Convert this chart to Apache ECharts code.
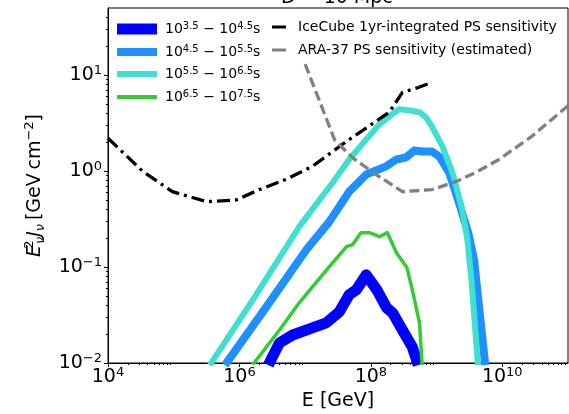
<!DOCTYPE html>
<html><head><meta charset="utf-8">
<script src="https://cdn.jsdelivr.net/npm/echarts@6/dist/echarts.min.js"></script>
<style>html,body{margin:0;padding:0;background:#fff}#c{width:569px;height:414px}</style>
</head><body><div id="c"></div>
<script>
// ---- tick values ----
const xTicks = [1e4, 1e6, 1e8, 1e10];
const xMinorTicks = [2e4,3e4,4e4,5e4,6e4,7e4,8e4,9e4, 2e6,3e6,4e6,5e6,6e6,7e6,8e6,9e6,
                     2e8,3e8,4e8,5e8,6e8,7e8,8e8,9e8, 2e10,3e10,4e10,5e10,6e10,7e10,8e10,9e10];
const yTicks = [0.01, 0.1, 1, 10];
const yMinorTicks = [0.02,0.03,0.04,0.05,0.06,0.07,0.08,0.09, 0.2,0.3,0.4,0.5,0.6,0.7,0.8,0.9,
                     2,3,4,5,6,7,8,9, 20,30,40];

// ---- series data (E [GeV], E^2 J [GeV cm^-2]) ----
const blueE = [2.75e6, 4.07e6, 6.46e6, 1.29e7, 2.09e7, 3.31e7, 4.68e7, 6.03e7, 8.51e7, 1.23e8, 1.74e8, 2.14e8, 3.02e8, 4.27e8, 5.25e8];
const blueF = [0.0095, 0.0162, 0.0196, 0.0232, 0.0262, 0.0341, 0.0514, 0.058, 0.083, 0.058, 0.0376, 0.0333, 0.0221, 0.0147, 0.0095];

const dodgerE = [6.03e5, 2.40e6, 1.05e7, 2.34e7, 4.68e7, 8.51e7, 1.70e8, 2.45e8, 3.47e8, 4.57e8, 6.03e8, 8.51e8, 1.10e9, 1.55e9, 2.19e9, 3.02e9, 3.72e9, 5.50e9];
const dodgerF = [0.0095, 0.036, 0.152, 0.297, 0.61, 0.92, 1.12, 1.32, 1.39, 1.64, 1.60, 1.60, 1.42, 0.97, 0.47, 0.23, 0.119, 0.0095];

const turqE = [3.55e5, 1.78e6, 8.13e6, 2.63e7, 4.68e7, 8.51e7, 1.35e8, 1.91e8, 2.69e8, 3.80e8, 5.50e8, 6.92e8, 8.51e8, 1.23e9, 1.74e9, 2.45e9, 2.95e9, 3.39e9, 4.27e9];
const turqF = [0.0095, 0.051, 0.264, 0.76, 1.32, 2.14, 3.07, 3.72, 4.4, 4.3, 4.1, 3.63, 2.9, 1.81, 0.97, 0.40, 0.19, 0.074, 0.0095];

const greenE = [1.58e6, 4.07e6, 8.13e6, 1.29e7, 2.34e7, 4.27e7, 5.25e7, 7.08e7, 9.55e7, 1.35e8, 1.78e8, 2.45e8, 3.55e8, 4.27e8, 5.50e8, 6.03e8];
const greenF = [0.0095, 0.0221, 0.0424, 0.0622, 0.101, 0.163, 0.171, 0.228, 0.228, 0.207, 0.228, 0.141, 0.098, 0.058, 0.0262, 0.0095];

const iceE = [1e4, 3.39e4, 9.55e4, 3.16e5, 8.91e5, 2.0e6, 5.13e6, 1.29e7, 4.27e7, 1.91e8, 3.02e8, 4.9e8, 8.51e8];
const iceF = [2.2, 0.99, 0.61, 0.48, 0.50, 0.64, 0.82, 1.12, 2.04, 4.1, 6.6, 7.3, 8.4];

const araE = [1e7, 2.82e7, 5.25e7, 1.2e8, 3.02e8, 8.51e8, 2.0e9, 3.98e9, 8.91e9, 2.82e10, 1e11];
const araF = [13, 2.1, 1.38, 0.92, 0.61, 0.64, 0.78, 0.97, 1.32, 2.3, 4.8];

const seriesNames = ['r1', 'r2', 'r3', 'r4', 'IceCube 1yr-integrated PS sensitivity', 'ARA-37 PS sensitivity (estimated)'];
const rangeLabels = [['3.5', '4.5'], ['4.5', '5.5'], ['5.5', '6.5'], ['6.5', '7.5']];

const zip = (a, b) => a.map((v, i) => [v, b[i]]);
const FONT = 'DejaVu Sans';

function expOf(v) { return Math.round(Math.log10(v)); }
function powLabel(v) {
  const e = expOf(v);
  return '{b|10}{s|' + String(e).replace('-', '\u2212') + '}';
}
const tickRich = {
  b: { fontSize: 19, fontFamily: FONT, color: '#000', lineHeight: 22, verticalAlign: 'middle' },
  s: { fontSize: 13, fontFamily: FONT, color: '#000', lineHeight: 13, verticalAlign: 'top' }
};
const legRich = {
  n: { fontSize: 14, fontFamily: FONT, color: '#000', lineHeight: 16, verticalAlign: 'middle' },
  s: { fontSize: 10, fontFamily: FONT, color: '#000', lineHeight: 10, verticalAlign: 'top' }
};
function legFormatter(name) {
  const i = seriesNames.indexOf(name);
  if (i >= 0 && i < 4) {
    const r = rangeLabels[i];
    return '{n|10}{s|' + r[0] + '}{n| \u2212 10}{s|' + r[1] + '}{n|s}';
  }
  return '{n|' + name + '}';
}

function legendRow(name, left, centerY, w, h, pad) {
  return {
    data: [{ name: name, icon: 'rect' }],
    left: left, top: centerY - Math.max(h, 16) / 2,
    itemWidth: w, itemHeight: h, padding: 0, selectedMode: false,
    formatter: legFormatter,
    textStyle: { rich: legRich, fontSize: 14, fontFamily: FONT, color: '#000', padding: [0, 0, 0, pad] }
  };
}

const chart = echarts.init(document.getElementById('c'), null, { renderer: 'canvas' });
chart.setOption({
  animation: false,
  backgroundColor: '#fff',
  title: {
    text: 'D = 10 Mpc', left: 281, top: -11, padding: 0,
    textStyle: { fontSize: 19, fontWeight: 'normal', fontFamily: FONT, color: '#000' }
  },
  legend: [
    legendRow(seriesNames[0], 117, 29, 40, 11, 3),
    legendRow(seriesNames[1], 117, 52, 40, 8, 3),
    legendRow(seriesNames[2], 117, 74, 40, 6, 3),
    legendRow(seriesNames[3], 117, 97, 40, 4, 3),
    legendRow(seriesNames[4], 272, 28, 14, 3, 7),
    legendRow(seriesNames[5], 272, 51, 14, 3, 7)
  ],
  grid: { left: 108, right: 1, top: 8, bottom: 51, show: true, borderColor: '#000', borderWidth: 1, backgroundColor: 'transparent', outerBoundsMode: 'none' },
  xAxis: [
    {
      type: 'log', logBase: 10, min: 1e4, max: 1e11, position: 'bottom',
      name: 'E [GeV]', nameLocation: 'middle', nameGap: 26,
      nameTextStyle: { fontSize: 19, fontFamily: FONT, color: '#000' },
      axisLine: { show: true, lineStyle: { color: '#000', width: 1 } },
      axisTick: { show: true, inside: false, length: 4, customValues: xTicks, lineStyle: { color: '#000', width: 1 } },
      axisLabel: { show: true, customValues: xTicks, margin: 3, formatter: powLabel, rich: tickRich },
      splitLine: { show: false }, minorTick: { show: false }
    },
    {
      type: 'log', logBase: 10, min: 1e4, max: 1e11, position: 'bottom',
      axisLine: { show: false },
      axisTick: { show: true, inside: false, length: 2, customValues: xMinorTicks, lineStyle: { color: '#000', width: 1 } },
      axisLabel: { show: false }, splitLine: { show: false }
    }
  ],
  yAxis: [
    {
      type: 'log', logBase: 10, min: 0.01, max: 50, position: 'left',
      name: '{it|E}{sup2|2}{sub|\u03bd}{it|J}{sub|\u03bd}{n|\u2009[GeV\u2009cm}{sup|\u22122}{n|]}',
      nameLocation: 'middle', nameGap: 61, nameRotate: 90,
      nameTextStyle: {
        fontSize: 19, fontFamily: FONT, color: '#000',
        rich: {
          it: { fontSize: 19, fontFamily: FONT, fontStyle: 'italic', color: '#000', lineHeight: 24, verticalAlign: 'middle' },
          n: { fontSize: 19, fontFamily: FONT, color: '#000', lineHeight: 24, verticalAlign: 'middle' },
          sup2: { fontSize: 13, fontFamily: FONT, color: '#000', lineHeight: 13, verticalAlign: 'top', width: 1 },
          sup: { fontSize: 13, fontFamily: FONT, color: '#000', lineHeight: 13, verticalAlign: 'top' },
          sub: { fontSize: 13, fontFamily: FONT, fontStyle: 'italic', color: '#000', lineHeight: 13, verticalAlign: 'bottom' }
        }
      },
      axisLine: { show: true, lineStyle: { color: '#000', width: 1 } },
      axisTick: { show: true, inside: false, length: 4, customValues: yTicks, lineStyle: { color: '#000', width: 1 } },
      axisLabel: { show: true, customValues: yTicks, margin: 6, formatter: powLabel, rich: tickRich },
      splitLine: { show: false }, minorTick: { show: false }
    },
    {
      type: 'log', logBase: 10, min: 0.01, max: 50, position: 'left',
      axisLine: { show: false },
      axisTick: { show: true, inside: false, length: 2, customValues: yMinorTicks, lineStyle: { color: '#000', width: 1 } },
      axisLabel: { show: false }, splitLine: { show: false }
    }
  ],
  series: [
    { name: seriesNames[0], type: 'line', data: zip(blueE, blueF), color: '#0000ff', symbol: 'none', z: 2,
      lineStyle: { width: 11, color: '#0000ff', join: 'round' } },
    { name: seriesNames[1], type: 'line', data: zip(dodgerE, dodgerF), color: '#1e90ff', symbol: 'none', z: 3,
      lineStyle: { width: 8, color: '#1e90ff', join: 'round' } },
    { name: seriesNames[2], type: 'line', data: zip(turqE, turqF), color: '#40e0d0', symbol: 'none', z: 4,
      lineStyle: { width: 6, color: '#40e0d0', join: 'round' } },
    { name: seriesNames[3], type: 'line', data: zip(greenE, greenF), color: '#32cd32', symbol: 'none', z: 5,
      lineStyle: { width: 3.5, color: '#32cd32', join: 'round' } },
    { name: seriesNames[4], type: 'line', data: zip(iceE, iceF), color: '#000000', symbol: 'none', z: 6,
      lineStyle: { width: 3.3, color: '#000000', type: [13, 5, 3, 5], join: 'round' } },
    { name: seriesNames[5], type: 'line', data: zip(araE, araF), color: '#808080', symbol: 'none', z: 7,
      lineStyle: { width: 3.3, color: '#808080', type: [10, 4.5], join: 'round' } }
  ]
});
</script></body></html>
